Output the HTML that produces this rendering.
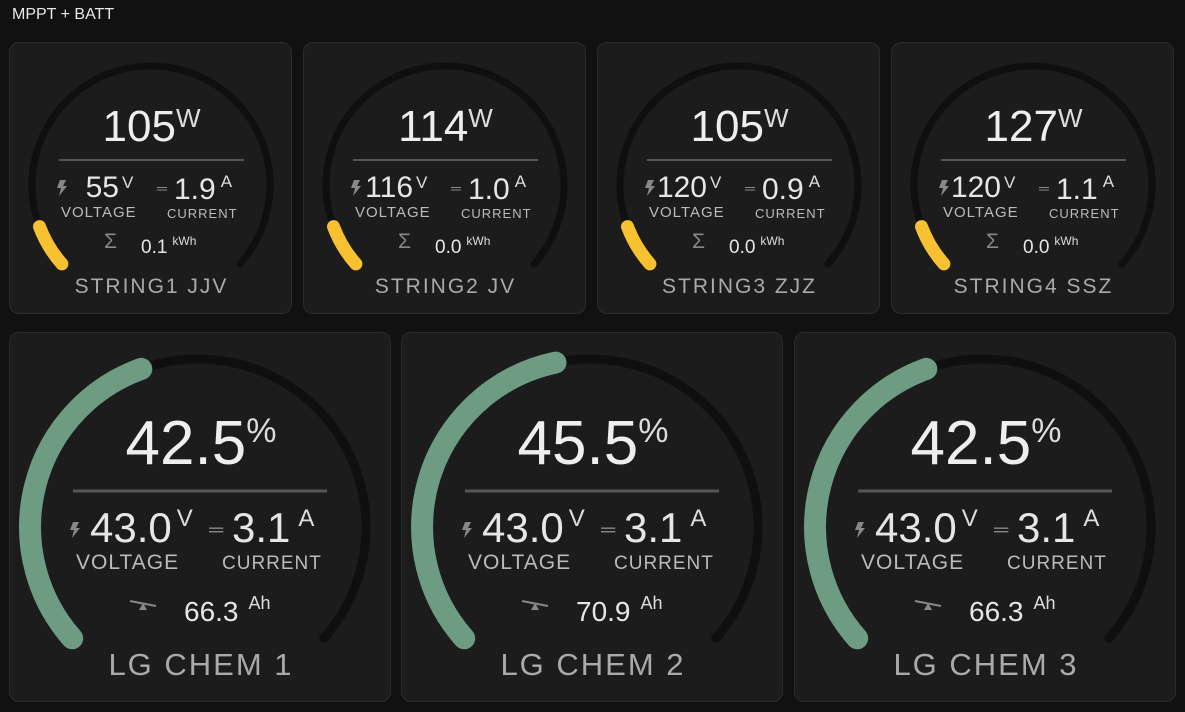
<!DOCTYPE html>
<html><head><meta charset="utf-8"><style>
*{margin:0;padding:0;box-sizing:border-box}
body{width:1185px;height:712px;background:#111111;font-family:"Liberation Sans",sans-serif;color:#e6e6e6;position:relative;overflow:hidden}
.hdr{position:absolute;left:12px;top:6px;font-size:16px;color:#e8e8e8}
.card{position:absolute;background:#1c1c1c;border:1px solid #2c2c2c;border-radius:10px;overflow:hidden}
.card svg{position:absolute;left:0;top:0}
.t{position:absolute;white-space:nowrap;line-height:1}
.u{color:#ddd}
.lbl{color:#bbb;letter-spacing:1px}
.ttl{color:#aaa}
</style></head><body>
<div class="hdr">MPPT + BATT</div>
<div id="root"></div>
<script>
function pt(cx,cy,r,a){a=a*Math.PI/180;return [cx+r*Math.cos(a),cy-r*Math.sin(a)];}
function arc(cx,cy,r,a0,a1){var p=pt(cx,cy,r,a0),q=pt(cx,cy,r,a1);var large=(a0-a1)>180?1:0;return 'M'+p[0].toFixed(1)+' '+p[1].toFixed(1)+' A'+r+' '+r+' 0 '+large+' 1 '+q[0].toFixed(1)+' '+q[1].toFixed(1);}
var h='';
var S=221.5,E=-41.5,SW=S-E;
var bolt='<svg width="10" height="16" viewBox="0 0 10 16" style="position:static"><path d="M3 0h6L6 6h4L2 16l2-8H0z" fill="#888"/></svg>';
var tops=[[9,'105','55','1.9','0.1','STRING1 JJV'],[303,'114','116','1.0','0.0','STRING2 JV'],[597,'105','120','0.9','0.0','STRING3 ZJZ'],[891,'127','120','1.1','0.0','STRING4 SSZ']];
tops.forEach(function(c){
 var x=c[0],w=283,cx=141,cy=142,r=119;
 h+='<div class="card" style="left:'+x+'px;top:42px;width:'+w+'px;height:272px">';
 h+='<svg width="'+w+'" height="272"><path d="'+arc(cx,cy,r,S,E)+'" stroke="#0f0f0f" stroke-width="7" fill="none" stroke-linecap="round"/><path d="'+arc(cx,cy,r,S,S-SW*0.08)+'" stroke="#f7c131" stroke-width="13" fill="none" stroke-linecap="round"/><line x1="49" y1="117" x2="234" y2="117" stroke="#555" stroke-width="2"/></svg>';
 h+='<div class="t" style="left:0;width:'+w+'px;text-align:center;top:62px;font-size:44px;color:#eee">'+c[1]+'<span style="font-size:26px;vertical-align:14px;color:#ddd">W</span></div>';
 h+='<div class="t" style="left:47px;top:137px">'+bolt+'</div>';
 h+='<div class="t" style="left:40px;width:69px;text-align:right;top:130px;font-size:30px">'+c[2]+'</div>';
 h+='<div class="t u" style="left:112px;top:131px;font-size:17px">V</div>';
 h+='<div class="t" style="left:147px;top:138px;font-size:14px;color:#888;letter-spacing:-1px">═</div>';
 h+='<div class="t" style="left:164px;top:130px;font-size:30px">'+c[3]+'<span class="u" style="font-size:17px;vertical-align:12px;margin-left:5px">A</span></div>';
 h+='<div class="t lbl" style="left:51px;top:162px;font-size:15px">VOLTAGE</div>';
 h+='<div class="t lbl" style="left:157px;top:164px;font-size:13px">CURRENT</div>';
 h+='<div class="t" style="left:94px;top:188px;font-size:21px;color:#888">Σ</div>';
 h+='<div class="t" style="left:131px;top:192px;font-size:19px">'+c[4]+'<span class="u" style="font-size:12px;vertical-align:8px;margin-left:5px">kWh</span></div>';
 h+='<div class="t ttl" style="left:0;width:'+w+'px;text-align:center;top:233px;font-size:21px;letter-spacing:2px">'+c[5]+'</div>';
 h+='</div>';
});
var bots=[[9,'42.5',0.425,'66.3','LG CHEM 1'],[401,'45.5',0.455,'70.9','LG CHEM 2'],[794,'42.5',0.425,'66.3','LG CHEM 3']];
var see='<svg width="30" height="14" viewBox="0 0 30 14" style="position:static"><line x1="2" y1="4" x2="28" y2="9" stroke="#888" stroke-width="2"/><path d="M11 13 L15 6 L19 13z" fill="#888"/></svg>';
bots.forEach(function(c){
 var x=c[0],w=382,cx=188,cy=194,r=168;
 h+='<div class="card" style="left:'+x+'px;top:332px;width:'+w+'px;height:370px">';
 h+='<svg width="'+w+'" height="370"><path d="'+arc(cx,cy,r,S,E)+'" stroke="#0f0f0f" stroke-width="9" fill="none" stroke-linecap="round"/><path d="'+arc(cx,cy,r,S,S-SW*c[2])+'" stroke="#6e9c83" stroke-width="22" fill="none" stroke-linecap="round"/><line x1="63" y1="158" x2="317" y2="158" stroke="#555" stroke-width="3"/></svg>';
 h+='<div class="t" style="left:0;width:'+w+'px;text-align:center;top:80px;font-size:62px;color:#eee">'+c[1]+'<span style="font-size:34px;vertical-align:22px;color:#ddd">%</span></div>';
 h+='<div class="t" style="left:60px;top:189px">'+bolt+'</div>';
 h+='<div class="t" style="left:80px;top:174px;font-size:42px">43.0<span class="u" style="font-size:24px;vertical-align:16px;margin-left:5px">V</span></div>';
 h+='<div class="t" style="left:199px;top:187px;font-size:20px;color:#888;letter-spacing:-2px">═</div>';
 h+='<div class="t" style="left:222px;top:174px;font-size:42px">3.1<span class="u" style="font-size:24px;vertical-align:16px;margin-left:8px">A</span></div>';
 h+='<div class="t lbl" style="left:66px;top:219px;font-size:21px">VOLTAGE</div>';
 h+='<div class="t lbl" style="left:212px;top:221px;font-size:19px">CURRENT</div>';
 h+='<div class="t" style="left:118px;top:264px">'+see+'</div>';
 h+='<div class="t" style="left:174px;top:261px;font-size:28px">'+c[3]+'<span class="u" style="font-size:18px;vertical-align:12px;margin-left:10px">Ah</span></div>';
 h+='<div class="t ttl" style="left:0;width:'+w+'px;text-align:center;top:316px;font-size:31px;letter-spacing:2px">'+c[4]+'</div>';
 h+='</div>';
});
document.getElementById('root').innerHTML=h;
</script>
</body></html>
